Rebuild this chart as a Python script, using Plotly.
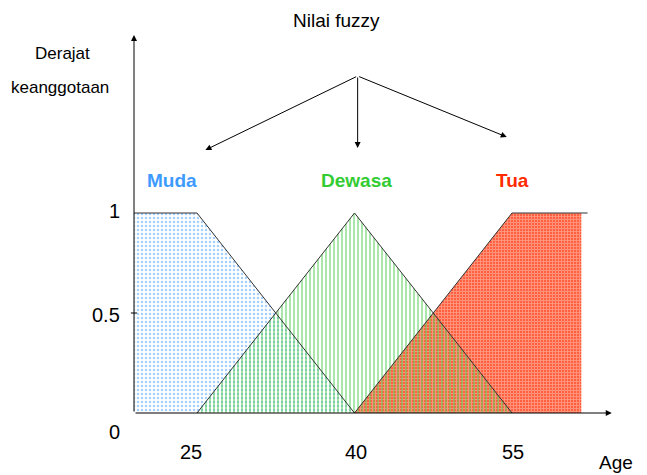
import plotly.graph_objects as go

# membership functions (age, degree)
muda_x = [19, 25, 40]
muda_y = [1, 1, 0]
dewasa_x = [25, 40, 55]
dewasa_y = [0, 1, 0]
tua_x = [40, 55, 62.2]
tua_y = [0, 1, 1]
tua_fill_end = 61.6

x_ticks = [25, 40, 55]
y_ticks = [0, 0.5, 1]
y_tick_labels = ["0", "0.5", "1"]

labels = ["Muda", "Dewasa", "Tua"]
label_x = [22.6, 40.2, 55]
label_colors = ["#3d9bff", "#33cc33", "#ff2a00"]

FONT = "Liberation Sans, Arial, sans-serif"
LINE = "#333333"

fig = go.Figure()

# Muda (blue dots)
fig.add_trace(go.Scatter(
    x=muda_x + [muda_x[-1], muda_x[0]], y=muda_y + [0, 0],
    fill="toself", mode="none", fillcolor="rgba(0,0,0,0)",
    fillpattern=dict(shape=".", fgcolor="#4a9ef5", size=4, solidity=0.3),
    hoverinfo="skip"))

# Tua (red dense grid)
fig.add_trace(go.Scatter(
    x=tua_x[:2] + [tua_fill_end, tua_fill_end], y=tua_y[:2] + [1, 0],
    fill="toself", mode="none", fillcolor="#ff6040",
    fillpattern=dict(shape="+", fgcolor="#ffc4b4", bgcolor="#ff6040",
                     size=3, solidity=0.55),
    hoverinfo="skip"))

# Dewasa (green vertical stripes) on top
fig.add_trace(go.Scatter(
    x=dewasa_x, y=dewasa_y,
    fill="toself", mode="none", fillcolor="rgba(0,0,0,0)",
    fillpattern=dict(shape="|", fgcolor="#55cf55", size=4, solidity=0.5),
    hoverinfo="skip"))

# outlines
for xs, ys in [(muda_x, muda_y), (dewasa_x, dewasa_y), (tua_x, tua_y)]:
    fig.add_trace(go.Scatter(x=xs, y=ys, mode="lines",
                             line=dict(color=LINE, width=1), hoverinfo="skip"))

ann = []
# axes with arrows
ann.append(dict(x=64.5, y=0, ax=19, ay=0, xref="x", yref="y", axref="x", ayref="y",
                text="", showarrow=True, arrowhead=2, arrowsize=1.2, arrowwidth=1,
                arrowcolor="black"))
ann.append(dict(x=19, y=1.89, ax=19, ay=0, xref="x", yref="y", axref="x", ayref="y",
                text="", showarrow=True, arrowhead=2, arrowsize=1.2, arrowwidth=1,
                arrowcolor="black"))

# Nilai fuzzy arrows
arrow_src = (40.3, 1.685)
arrow_tips = [(25.8, 1.315), (40.3, 1.325), (54.5, 1.38)]
for tx, ty in arrow_tips:
    ann.append(dict(x=tx, y=ty, ax=arrow_src[0], ay=arrow_src[1],
                    xref="x", yref="y", axref="x", ayref="y",
                    text="", showarrow=True, arrowhead=2, arrowsize=1.2,
                    arrowwidth=1, arrowcolor="black"))

# tick labels
y_shifts = {0: -19, 0.5: -2, 1: 2}
for v, t in zip(y_ticks, y_tick_labels):
    ann.append(dict(x=19, y=v, xref="x", yref="y", text=t, showarrow=False,
                    xanchor="right", xshift=-12, yshift=y_shifts[v],
                    font=dict(family=FONT, size=20, color="black")))
for v in x_ticks:
    ann.append(dict(x=v, y=0, xref="x", yref="y", text=str(v), showarrow=False,
                    yshift=-39, xshift=-6 if v == 25 else 1,
                    font=dict(family=FONT, size=20, color="black")))

ann.append(dict(x=64.9, y=-0.245, xref="x", yref="y", text="Age", showarrow=False,
                font=dict(family=FONT, size=19, color="black")))
ann.append(dict(x=38.3, y=1.965, xref="x", yref="y", text="Nilai fuzzy", showarrow=False,
                font=dict(family=FONT, size=19, color="black")))
ann.append(dict(x=12.2, y=1.8, xref="x", yref="y", text="Derajat", showarrow=False,
                font=dict(family=FONT, size=17, color="black")))
ann.append(dict(x=11.95, y=1.63, xref="x", yref="y", text="keanggotaan", showarrow=False,
                font=dict(family=FONT, size=17, color="black")))

for name, lx, c in zip(labels, label_x, label_colors):
    ann.append(dict(x=lx, y=1.165, xref="x", yref="y", text="<b>" + name + "</b>",
                    showarrow=False, font=dict(family=FONT, size=19, color=c)))

# page body adds an 8px margin, so the figure is 8px smaller and offset
fig.update_layout(
    width=639, height=467, autosize=False,
    margin=dict(l=0, r=0, t=0, b=0),
    paper_bgcolor="white", plot_bgcolor="white",
    showlegend=False,
    xaxis=dict(range=[7.0, 67.857], visible=False, fixedrange=True),
    yaxis=dict(range=[-0.31, 2.025], visible=False, fixedrange=True),
    annotations=ann,
    shapes=[dict(type="line", xref="x", yref="y", x0=18.7, x1=19.3, y0=0.5, y1=0.5,
                 line=dict(color="black", width=1))],
)

fig.write_html("out.html")
